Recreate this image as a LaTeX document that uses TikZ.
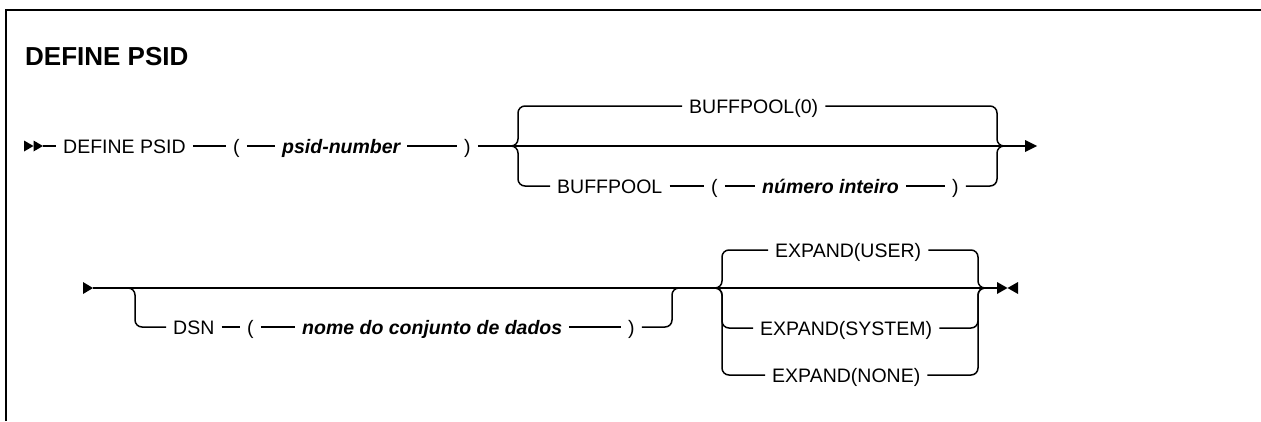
\documentclass[tikz,border=0pt]{standalone}
\usepackage{fontspec}
\setmainfont{Liberation Sans}
\begin{document}
\begin{tikzpicture}[x=1pt,y=-1pt,
  ln/.style={line width=1.5pt},
  rc/.style={line width=1.5pt, rounded corners=7pt},
  tok/.style={inner xsep=7pt, inner ysep=0pt, text height=16pt, text depth=2pt, anchor=west, font=\fontsize{19.5}{23}\selectfont},
  var/.style={tok, font=\fontsize{19.5}{23}\selectfont\bfseries\itshape}]
\useasboundingbox (0,0) rectangle (1261,421);
\draw[line width=2pt] (6,421) -- (6,10) -- (1261,10);
\node[anchor=base west, inner sep=0pt, font=\fontsize{26}{30}\selectfont\bfseries] (title) at (25,65) {DEFINE PSID};

% ---------- row 1 ----------
\coordinate (s1) at (43,146);
\coordinate (e1) at (1025,146);
\fill (24,140.5) -- (33.5,146) -- (24,151.5) -- cycle;
\fill (33.5,140.5) -- (43,146) -- (33.5,151.5) -- cycle;
\fill (1025,140) -- (1037,146) -- (1025,152) -- cycle;
\node[tok] (define) at (56,146) {DEFINE PSID};
\node[tok] (lp1) at (226,146) {(};
\node[var] (psid) at (275,146) {psid-number};
\node[tok] (rp1) at (457,146) {)};
\draw[ln] (s1) -- (define);
\draw[ln] (define) -- (lp1);
\draw[ln] (lp1) -- (psid);
\draw[ln] (psid) -- (rp1);
\draw[ln] (rp1) -- (e1);

\node[tok] (bp0) at (682,106) {BUFFPOOL(0)};
\draw[rc] (bp0.west) -- (518,106) -- (518,146) -- (510,146);
\draw[rc] (bp0.east) -- (997,106) -- (997,146) -- (1005,146);

\node[tok] (bp) at (550,186) {BUFFPOOL};
\node[tok] (lp2) at (704,186) {(};
\node[var] (num) at (755,186) {número inteiro};
\node[tok] (rp2) at (945,186) {)};
\draw[rc] (bp.west) -- (518,186) -- (518,146) -- (510,146);
\draw[ln] (bp) -- (lp2);
\draw[ln] (lp2) -- (num);
\draw[ln] (num) -- (rp2);
\draw[rc] (rp2.east) -- (997,186) -- (997,146) -- (1005,146);

% ---------- row 2 ----------
\coordinate (s2) at (93,288);
\coordinate (e2) at (997,288);
\fill (83,282) -- (93,288) -- (83,294) -- cycle;
\draw[ln] (s2) -- (e2);
\fill (997,282) -- (1007.5,288) -- (997,294) -- cycle;
\fill (1018,282) -- (1007.5,288) -- (1018,294) -- cycle;

\node[tok] (dsn) at (166,327) {DSN};
\node[tok] (lp3) at (240,327) {(};
\node[var] (nome) at (295,327) {nome do conjunto de dados};
\node[tok] (rp3) at (621,327) {)};
\draw[rc] (127,288) -- (135,288) -- (135,327) -- (dsn.west);
\draw[ln] (dsn) -- (lp3);
\draw[ln] (lp3) -- (nome);
\draw[ln] (nome) -- (rp3);
\draw[rc] (rp3.east) -- (672,327) -- (672,288) -- (680,288);

\node[tok] (eu) at (768,250) {EXPAND(USER)};
\node[tok] (es) at (753,328) {EXPAND(SYSTEM)};
\node[tok] (en) at (765,375) {EXPAND(NONE)};
\draw[rc] (eu.west) -- (722,250) -- (722,288) -- (714,288);
\draw[rc] (es.west) -- (722,328) -- (722,288) -- (714,288);
\draw[rc] (en.west) -- (722,375) -- (722,288) -- (714,288);
\draw[rc] (eu.east) -- (978,250) -- (978,288) -- (986,288);
\draw[rc] (es.east) -- (978,328) -- (978,288) -- (986,288);
\draw[rc] (en.east) -- (978,375) -- (978,288) -- (986,288);
\end{tikzpicture}
\end{document}
